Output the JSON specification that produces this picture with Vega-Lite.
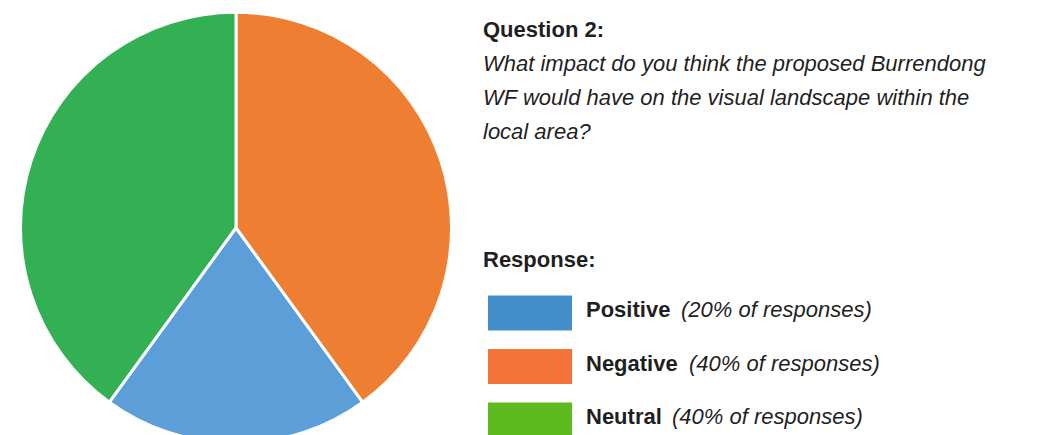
{
  "$schema": "https://vega.github.io/schema/vega-lite/v6.json",
  "padding": {"left": 0, "top": 10.5, "right": 0, "bottom": 0},
  "background": "white",
  "config": {"view": {"stroke": null}, "font": "Liberation Sans"},
  "spacing": 10,
  "resolve": {"scale": {"color": "independent"}},
  "hconcat": [
    {
      "width": 472,
      "height": 78.5,
      "data": {"values": [
        {"response": "Positive", "share": 20},
        {"response": "Negative", "share": 40},
        {"response": "Neutral", "share": 40}
      ]},
      "mark": {"type": "arc", "outerRadius": 215.5, "stroke": "white", "strokeWidth": 3, "strokeJoin": "round"},
      "encoding": {
        "theta": {"field": "share", "type": "quantitative", "stack": true, "scale": {"range": [2.51327, 8.79646]}},
        "order": {"field": "response", "sort": "descending"},
        "color": {"field": "response", "type": "nominal", "scale": {"domain": ["Positive", "Negative", "Neutral"], "range": ["#5B9ED8", "#EE7F32", "#34B054"]}, "legend": null}
      }
    },
    {
      "width": 193,
      "height": 302.5,
      "title": {
        "text": "Question 2:",
        "subtitle": ["What impact do you think the proposed Burrendong", "WF would have on the visual landscape within the", "local area?"],
        "anchor": "start",
        "frame": "group",
        "orient": "top",
        "font": "Liberation Sans",
        "fontSize": 22,
        "fontWeight": "bold",
        "color": "#1f1f1f",
        "subtitleFont": "Liberation Sans",
        "subtitleFontSize": 22,
        "subtitleFontStyle": "italic",
        "subtitleFontWeight": "normal",
        "subtitleColor": "#1f1f1f",
        "subtitleLineHeight": 34,
        "subtitlePadding": 12,
        "offset": 44.5
      },
      "data": {"values": [
        {"response": "Positive", "detail": "(20% of responses)"},
        {"response": "Negative", "detail": "(40% of responses)"},
        {"response": "Neutral", "detail": "(40% of responses)"}
      ]},
      "layer": [
        {
          "data": {"values": [{"heading": "Response:"}]},
          "mark": {"type": "text", "align": "left", "baseline": "middle", "fontSize": 22, "fontWeight": "bold", "color": "#1f1f1f", "dx": -5, "dy": 1},
          "encoding": {
            "text": {"field": "heading"},
            "x": {"datum": "swatch", "type": "nominal", "bandPosition": 0, "scale": {"type": "band", "domain": ["swatch", "label"], "paddingInner": 0.1515, "paddingOuter": 0.0505}, "axis": null},
            "y": {"datum": "Response:", "type": "nominal", "scale": {"type": "band", "domain": ["Response:", "Positive", "Negative", "Neutral"], "paddingInner": 0.346, "paddingOuter": 1}, "axis": null}
          }
        },
        {
          "mark": {"type": "rect"},
          "encoding": {
            "x": {"datum": "swatch", "type": "nominal", "scale": {"type": "band", "domain": ["swatch", "label"], "paddingInner": 0.1515, "paddingOuter": 0.0505}, "axis": null},
            "y": {"field": "response", "type": "nominal", "scale": {"type": "band", "domain": ["Response:", "Positive", "Negative", "Neutral"], "paddingInner": 0.346, "paddingOuter": 1}, "axis": null},
            "color": {"field": "response", "type": "nominal", "scale": {"domain": ["Positive", "Negative", "Neutral"], "range": ["#438FCB", "#F47338", "#5DBA1F"]}, "legend": null}
          }
        },
        {
          "mark": {"type": "text", "align": "left", "baseline": "middle", "fontSize": 22, "fontWeight": "bold", "color": "#1f1f1f", "dy": -3, "dx": -1},
          "encoding": {
            "text": {"field": "response"},
            "x": {"datum": "label", "type": "nominal", "bandPosition": 0, "scale": {"type": "band", "domain": ["swatch", "label"], "paddingInner": 0.1515, "paddingOuter": 0.0505}, "axis": null},
            "y": {"field": "response", "type": "nominal", "scale": {"type": "band", "domain": ["Response:", "Positive", "Negative", "Neutral"], "paddingInner": 0.346, "paddingOuter": 1}, "axis": null}
          }
        },
        {
          "transform": [{"filter": "datum.response === 'Positive'"}],
          "mark": {"type": "text", "align": "left", "baseline": "middle", "fontSize": 22, "fontStyle": "italic", "color": "#1f1f1f", "dy": -3, "dx": 94},
          "encoding": {
            "text": {"field": "detail"},
            "x": {"datum": "label", "type": "nominal", "bandPosition": 0, "scale": {"type": "band", "domain": ["swatch", "label"], "paddingInner": 0.1515, "paddingOuter": 0.0505}, "axis": null},
            "y": {"field": "response", "type": "nominal", "scale": {"type": "band", "domain": ["Response:", "Positive", "Negative", "Neutral"], "paddingInner": 0.346, "paddingOuter": 1}, "axis": null}
          }
        },
        {
          "transform": [{"filter": "datum.response === 'Negative'"}],
          "mark": {"type": "text", "align": "left", "baseline": "middle", "fontSize": 22, "fontStyle": "italic", "color": "#1f1f1f", "dy": -3, "dx": 102},
          "encoding": {
            "text": {"field": "detail"},
            "x": {"datum": "label", "type": "nominal", "bandPosition": 0, "scale": {"type": "band", "domain": ["swatch", "label"], "paddingInner": 0.1515, "paddingOuter": 0.0505}, "axis": null},
            "y": {"field": "response", "type": "nominal", "scale": {"type": "band", "domain": ["Response:", "Positive", "Negative", "Neutral"], "paddingInner": 0.346, "paddingOuter": 1}, "axis": null}
          }
        },
        {
          "transform": [{"filter": "datum.response === 'Neutral'"}],
          "mark": {"type": "text", "align": "left", "baseline": "middle", "fontSize": 22, "fontStyle": "italic", "color": "#1f1f1f", "dy": -3, "dx": 85},
          "encoding": {
            "text": {"field": "detail"},
            "x": {"datum": "label", "type": "nominal", "bandPosition": 0, "scale": {"type": "band", "domain": ["swatch", "label"], "paddingInner": 0.1515, "paddingOuter": 0.0505}, "axis": null},
            "y": {"field": "response", "type": "nominal", "scale": {"type": "band", "domain": ["Response:", "Positive", "Negative", "Neutral"], "paddingInner": 0.346, "paddingOuter": 1}, "axis": null}
          }
        }
      ]
    }
  ]
}
